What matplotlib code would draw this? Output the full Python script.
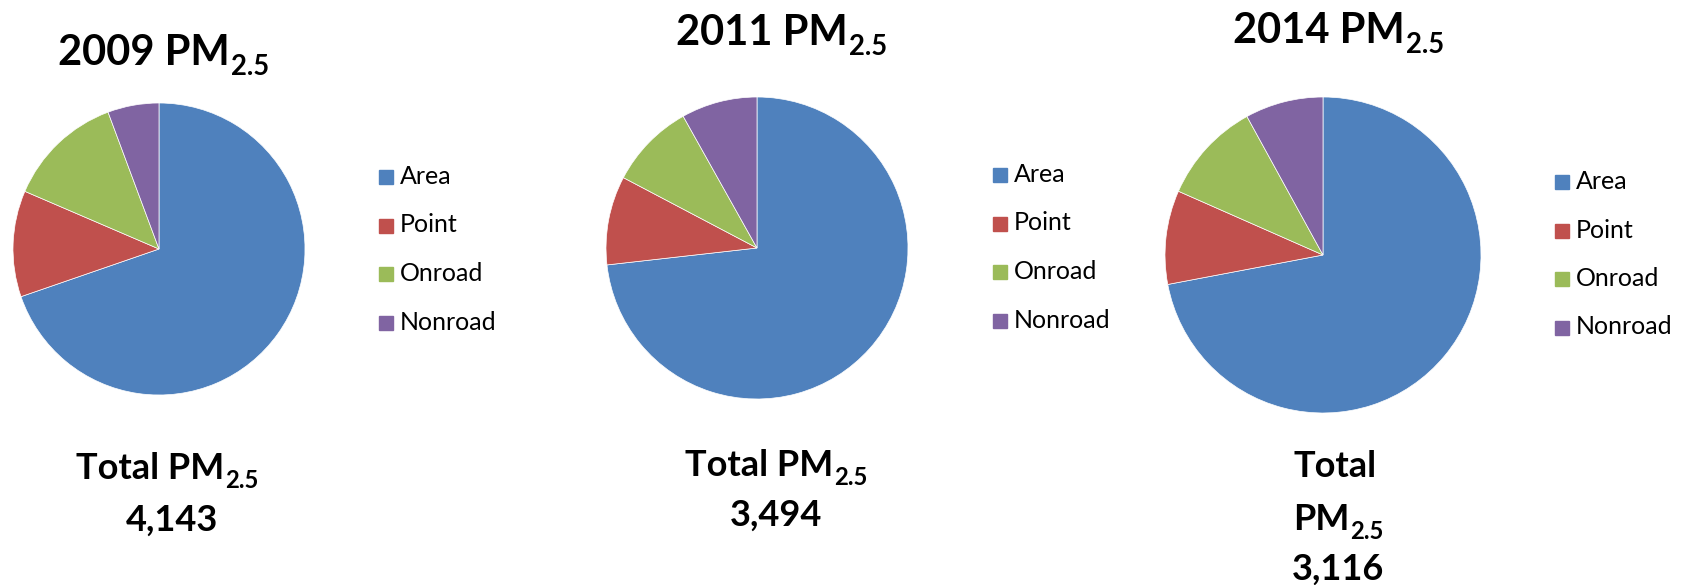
import matplotlib
matplotlib.use("Agg")
import matplotlib.pyplot as plt
from matplotlib.patches import Rectangle

plt.rcParams['font.family'] = ['Lato', 'DejaVu Sans']

W, H = 1682, 585

sources = ['Area', 'Point', 'Onroad', 'Nonroad']
colors = ['#4F81BD', '#C0504D', '#9BBB59', '#8064A2']

years = ['2009', '2011', '2014']
area = [2888, 2558, 2244]
point = [487, 332, 299]
onroad = [533, 320, 324]
nonroad = [235, 284, 249]

# layout per panel, in pixels from the top-left corner
pie_centers = [(159, 249), (757, 248), (1323, 255)]
pie_radii = [146, 151, 158]
title_pos = [(163, 65), (781, 45), (1338, 43)]
legend_pos = [(379, 177), (993, 175), (1555, 182)]
total_lines = [
    [('Total PM', 167, 479), (None, 172, 531)],
    [('Total PM', 776, 476), (None, 776, 526)],
    [('Total', 1335, 477), ('PM', 1338, 530), (None, 1338, 580)],
]

fig = plt.figure(figsize=(W / 100, H / 100), dpi=100)
ax = fig.add_axes([0, 0, 1, 1])
ax.set_xlim(0, W)
ax.set_ylim(0, H)
renderer = fig.canvas.get_renderer()


def pm_text(x, y, main, size):
    # main text plus a bold "2.5" subscript, centred on x as a whole
    t1 = ax.text(0, H - y, main, fontsize=size, fontweight='bold',
                 ha='left', va='baseline')
    t2 = ax.text(0, H - y - size * 0.34, '2.5', fontsize=size * 0.66,
                 fontweight='bold', ha='left', va='baseline')
    w1 = t1.get_window_extent(renderer).width
    w2 = t2.get_window_extent(renderer).width
    x0 = x - (w1 + w2) / 2
    t1.set_x(x0)
    t2.set_x(x0 + w1 + 1)


for i, year in enumerate(years):
    vals = [area[i], point[i], onroad[i], nonroad[i]]
    total = sum(vals)
    cx, cy = pie_centers[i]
    ax.pie(vals, colors=colors, startangle=90, counterclock=False,
           center=(cx, H - cy), radius=pie_radii[i],
           wedgeprops=dict(edgecolor='white', linewidth=0.5))

    tx, ty = title_pos[i]
    pm_text(tx, ty, f'{year} PM', 30)

    for text, x, y in total_lines[i]:
        if text is None:
            ax.text(x, H - y, f'{total:,}', fontsize=26, fontweight='bold',
                    ha='center', va='baseline')
        elif text.endswith('PM'):
            pm_text(x, y, text, 26)
        else:
            ax.text(x, H - y, text, fontsize=26, fontweight='bold',
                    ha='center', va='baseline')

    lx, ly = legend_pos[i]
    for j, name in enumerate(sources):
        yc = ly + j * 48.5
        ax.add_patch(Rectangle((lx, H - yc - 7), 14, 14, color=colors[j]))
        ax.text(lx + 21, H - yc - 7, name, fontsize=18,
                ha='left', va='baseline')

ax.set_xlim(0, W)
ax.set_ylim(0, H)
ax.set_aspect('auto')
ax.axis('off')

fig.savefig('out.png', dpi=100)
